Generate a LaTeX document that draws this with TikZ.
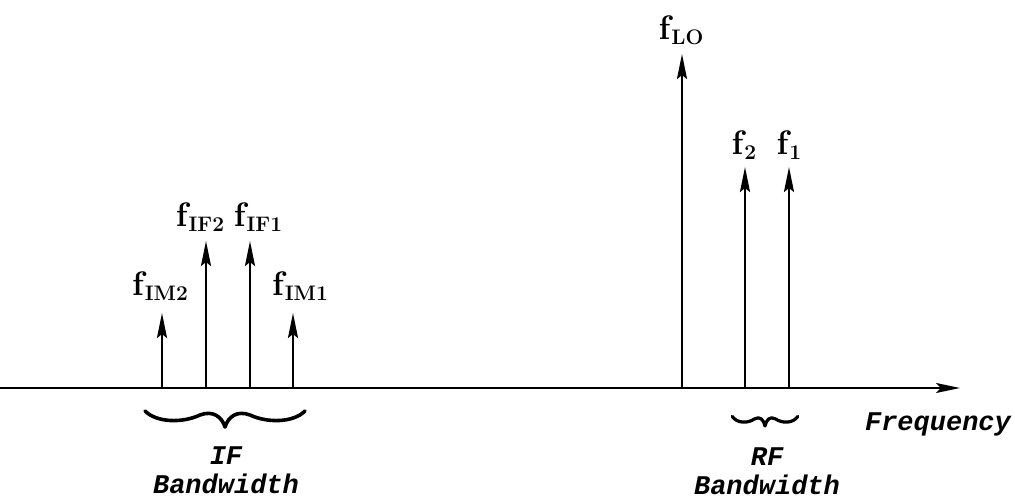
\documentclass[tikz,border=0pt]{standalone}
\usepackage{fontspec}
\newfontfamily\lblfont{Liberation Mono}
\usetikzlibrary{arrows.meta}
\newcommand{\fsym}[1]{f\kern1pt\raisebox{-5pt}{\fontsize{21}{21}\selectfont #1}}
\begin{document}
\begin{tikzpicture}[x=1pt,y=-1pt,
  spike/.style={line width=2.4pt,-{Stealth[length=25pt,width=10pt,inset=4pt]}},
  axisline/.style={line width=2.4pt,-{Stealth[length=24pt,width=10pt,inset=5pt]}},
  flab/.style={font=\fontsize{34}{34}\selectfont\bfseries,inner sep=0pt},
  bw/.style={font=\lblfont\fontsize{27}{29}\selectfont\bfseries\itshape,align=center,inner sep=0pt},
  bracestyle/.style={line width=3.6pt,line cap=round,line join=round}]
\useasboundingbox (0,0) rectangle (1015,502);
% axis
\coordinate (a0) at (0,388);
\coordinate (a1) at (960,388);
\draw[axisline] (a0) -- (a1);
% spike bases and tips
\foreach \n/\x/\t in {im2/162/313, if2/206/241, if1/250/241, im1/293/313, lo/682/54, ftwo/745/167, fone/789/167}{
  \coordinate (\n b) at (\x,389);
  \coordinate (\n t) at (\x,\t);
  \draw[spike] (\n b) -- (\n t);
}
% labels
\node[flab] (lim2) at (160,286) {\fsym{IM2}};
\node[flab] (lif2) at (200,217) {\fsym{IF2}};
\node[flab] (lif1) at (258,217) {\fsym{IF1}};
\node[flab] (lim1) at (300,286) {\fsym{IM1}};
\node[flab] (llo) at (681,30) {\fsym{LO}};
\node[flab] (l2) at (744,145) {\fsym{2}};
\node[flab] (l1) at (789,145) {\fsym{1}};
% braces
\begin{scope}[shift={(225,427)}]
  \coordinate (ibtip) at (0,0);
  \draw[bracestyle] (-80,-16) .. controls (-68,-4) and (-42,-4) .. (-25,-12)
    .. controls (-12,-17) and (-3,-10) .. (ibtip)
    .. controls (3,-10) and (12,-17) .. (25,-12)
    .. controls (42,-4) and (68,-4) .. (80,-16);
\end{scope}
\begin{scope}[shift={(765,426)},xscale=0.41,yscale=0.6]
  \coordinate (rbtip) at (0,0);
  \draw[bracestyle,line width=3.2pt] (-80,-16) .. controls (-68,-4) and (-42,-4) .. (-25,-12)
    .. controls (-12,-17) and (-3,-10) .. (rbtip)
    .. controls (3,-10) and (12,-17) .. (25,-12)
    .. controls (42,-4) and (68,-4) .. (80,-16);
\end{scope}
% texts
\node[bw] (ifbw) at (226,470) {IF\\Bandwidth};
\node[bw] (rfbw) at (767,471) {RF\\Bandwidth};
\node[bw] (freq) at (938,424) {Frequency};
\end{tikzpicture}
\end{document}
